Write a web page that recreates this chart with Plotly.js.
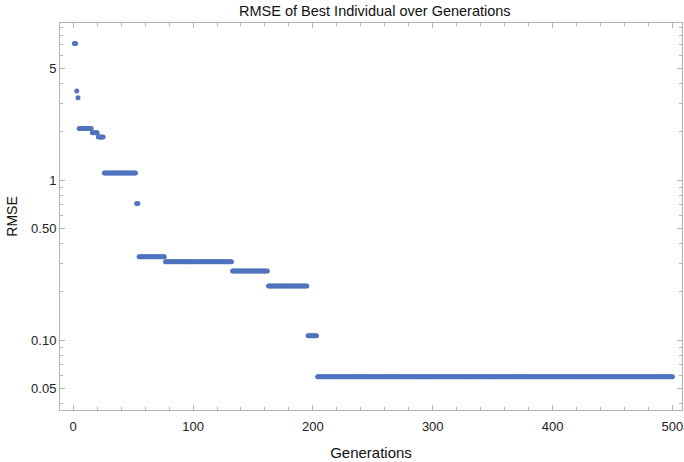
<!DOCTYPE html>
<html>
<head>
<meta charset="utf-8">
<script src="https://cdn.plot.ly/plotly-3.0.1.min.js"></script>
<style>html,body{margin:0;padding:0;background:#fff;}#chart{width:684px;height:462px;}</style>
</head>
<body>
<div id="chart"></div>
<script>
// Best-individual RMSE, read as runs of constant value: first gen, last gen, value
const segStartGen = [1, 3, 4, 5, 16, 21, 26, 53, 55, 77, 133, 163, 196, 204];
const segEndGen   = [2, 3, 4, 15, 20, 25, 52, 54, 76, 132, 162, 195, 203, 500];
const segRMSE     = [7.15, 3.6, 3.27, 2.10, 1.98, 1.86, 1.106, 0.715, 0.332, 0.308, 0.270, 0.2175, 0.1064, 0.059];

const xTickVals = [0, 100, 200, 300, 400, 500];
const yTickVals = [0.05, 0.1, 0.5, 1, 5];
const yTickText = ["0.05", "0.10", "0.50", "1", "5"];
const yMinorVals = [0.04, 0.06, 0.07, 0.08, 0.09, 0.2, 0.3, 0.4, 0.6, 0.7, 0.8, 0.9, 2, 3, 4, 6, 7, 8, 9];

const gens = [], rmse = [];
for (let i = 0; i < segStartGen.length; i++) {
  for (let g = segStartGen[i]; g <= segEndGen[i]; g++) { gens.push(g); rmse.push(segRMSE[i]); }
}

const frame = '#b4b4b4';
const font = {family: 'Liberation Sans, Arial, sans-serif', color: '#222'};

const data = [{
  x: gens, y: rmse, type: 'scatter', mode: 'markers',
  marker: {color: '#4f73bd', size: 5},
  hoverinfo: 'x+y'
}];

const layout = {
  width: 684, height: 462,
  margin: {l: 60, r: 2, t: 23, b: 52},
  paper_bgcolor: '#fff', plot_bgcolor: '#fff',
  showlegend: false,
  font: font,
  title: {text: 'RMSE of Best Individual over Generations', font: {family: font.family, size: 14.5, color: '#111'}, x: 0.548, xanchor: 'center', y: 0.977, yanchor: 'middle'},
  xaxis: {
    range: [-11, 508], showgrid: false, zeroline: false,
    showline: true, linecolor: frame, linewidth: 1, mirror: 'ticks',
    ticks: 'inside', ticklen: 5, tickcolor: frame, tickwidth: 1,
    tickvals: xTickVals, ticktext: xTickVals.map(String),
    tickfont: {family: font.family, size: 13, color: '#222'},
    ticklabelstandoff: 4, ticklabeloverflow: 'allow',
    minor: {ticks: 'inside', ticklen: 3, tickcolor: frame, dtick: 20, showgrid: false},
    title: {text: 'Generations', font: {family: font.family, size: 15, color: '#111'}, standoff: 14}
  },
  yaxis: {
    type: 'log', range: [Math.log10(0.0365), Math.log10(9.6)],
    showgrid: false, zeroline: false,
    showline: true, linecolor: frame, linewidth: 1, mirror: 'ticks',
    ticks: 'inside', ticklen: 5, tickcolor: frame, tickwidth: 1,
    tickvals: yTickVals, ticktext: yTickText,
    tickfont: {family: font.family, size: 13, color: '#222'},
    minor: {ticks: 'inside', ticklen: 3, tickcolor: frame, tickvals: yMinorVals, showgrid: false},
    title: {text: 'RMSE', font: {family: font.family, size: 14, color: '#111'}, standoff: 10}
  }
};

Plotly.newPlot('chart', data, layout, {displayModeBar: false, staticPlot: true});
</script>
</body>
</html>
